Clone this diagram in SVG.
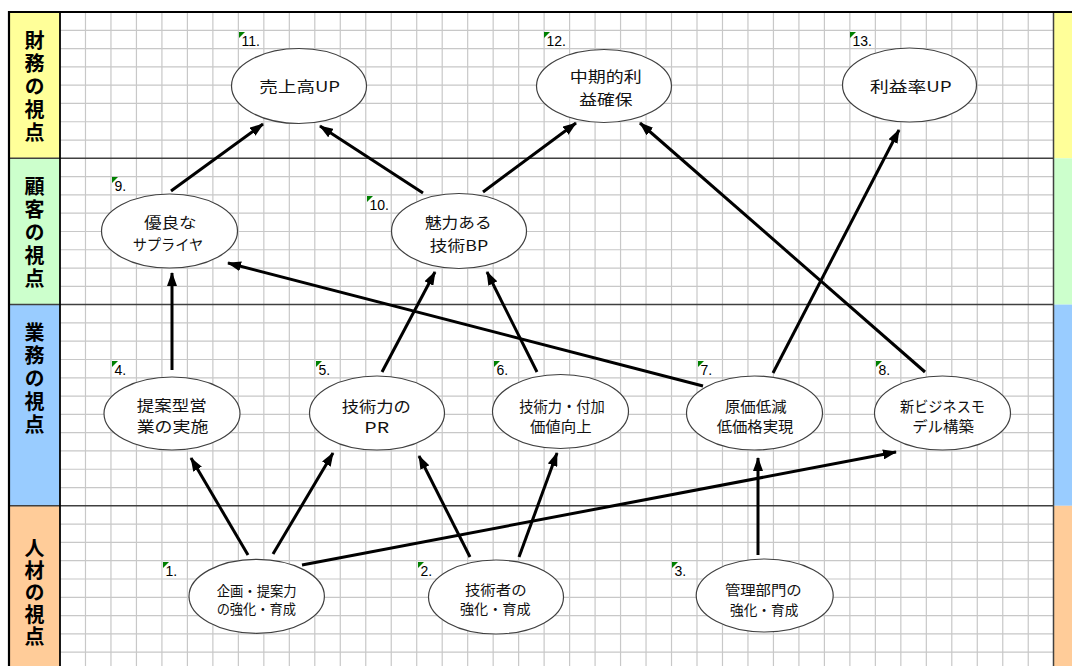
<svg xmlns="http://www.w3.org/2000/svg" width="1072" height="666" viewBox="0 0 1072 666">
<style>
.grid{stroke:#c8c8c8;stroke-width:1.2;fill:none}
.band{stroke:#404040;stroke-width:1.5}
.lbl{font-family:"Noto Sans CJK JP","Noto Sans CJK SC",sans-serif;font-size:20px;font-weight:bold;fill:#000;writing-mode:vertical-rl;text-orientation:upright;letter-spacing:3px}
.ell{fill:#fff;stroke:#404040;stroke-width:1.2}
.t{font-family:"Noto Sans CJK JP","Noto Sans CJK SC",sans-serif;font-size:15px;fill:#111;text-anchor:middle}
.ts{font-family:"Noto Sans CJK JP","Noto Sans CJK SC",sans-serif;font-size:14px;fill:#111;text-anchor:middle}
.num{font-family:"Liberation Sans",Arial,sans-serif;font-size:14px;fill:#000}
.tri{fill:#008000}
.arr{stroke:#000;stroke-width:3;fill:none;marker-end:url(#ah)}
</style>
<defs>
<marker id="ah" viewBox="0 0 14 10" refX="13" refY="5" markerWidth="14" markerHeight="10" markerUnits="userSpaceOnUse" orient="auto"><path d="M0,0 L14,5 L0,10 z" fill="#000"/></marker>
<path id="tr" d="M0,0 H6 L0,6 z"/>
</defs>
<rect x="0" y="0" width="1072" height="666" fill="#fff"/>
<!-- label column -->
<rect x="9" y="12" width="51" height="146.3" fill="#ffff99"/>
<rect x="9" y="158.3" width="51" height="146.3" fill="#ccffcc"/>
<rect x="9" y="304.6" width="51" height="201.2" fill="#99ccff"/>
<rect x="9" y="505.8" width="51" height="160.2" fill="#ffcc99"/>
<!-- right strip -->
<rect x="1053.5" y="12" width="18.5" height="146.3" fill="#ffff99"/>
<rect x="1053.5" y="158.3" width="18.5" height="146.3" fill="#ccffcc"/>
<rect x="1053.5" y="304.6" width="18.5" height="201.2" fill="#99ccff"/>
<rect x="1053.5" y="505.8" width="18.5" height="160.2" fill="#ffcc99"/>
<!-- grid -->
<path class="grid" d="M85.48 12V666M110.96 12V666M136.44 12V666M161.92 12V666M187.4 12V666M212.88 12V666M238.36 12V666M263.84 12V666M289.32 12V666M314.8 12V666M340.28 12V666M365.76 12V666M391.24 12V666M416.72 12V666M442.2 12V666M467.68 12V666M493.16 12V666M518.64 12V666M544.12 12V666M569.6 12V666M595.08 12V666M620.56 12V666M646.04 12V666M671.52 12V666M697 12V666M722.48 12V666M747.96 12V666M773.44 12V666M798.92 12V666M824.4 12V666M849.88 12V666M875.36 12V666M900.84 12V666M926.32 12V666M951.8 12V666M977.28 12V666M1002.76 12V666M1028.24 12V666
M60 30.29H1053M60 48.58H1053M60 66.87H1053M60 85.16H1053M60 103.45H1053M60 121.74H1053M60 140.03H1053M60 176.61H1053M60 194.9H1053M60 213.19H1053M60 231.48H1053M60 249.77H1053M60 268.06H1053M60 286.35H1053M60 322.93H1053M60 341.22H1053M60 359.51H1053M60 377.8H1053M60 396.09H1053M60 414.38H1053M60 432.67H1053M60 450.96H1053M60 469.25H1053M60 487.54H1053M60 524.12H1053M60 542.41H1053M60 560.7H1053M60 578.99H1053M60 597.28H1053M60 615.57H1053M60 633.86H1053M60 652.15H1053"/>
<!-- band lines and borders -->
<path class="band" d="M9 158.3H1053.5M9 304.6H1053.5M9 505.8H1053.5"/>
<line x1="1053.5" y1="12" x2="1053.5" y2="666" stroke="#404040" stroke-width="1.5"/>
<line x1="60" y1="12" x2="60" y2="666" stroke="#000" stroke-width="1.8"/>
<line x1="9" y1="11" x2="9" y2="666" stroke="#000" stroke-width="2.2"/>
<line x1="8" y1="12" x2="1072" y2="12" stroke="#000" stroke-width="2.2"/>
<!-- perspective labels -->
<g id="label-finance"><text class="lbl" x="34.5" y="30">財務の視点</text></g>
<g id="label-customer"><text class="lbl" x="34.5" y="176">顧客の視点</text></g>
<g id="label-business"><text class="lbl" x="34.5" y="322">業務の視点</text></g>
<g id="label-people"><text class="lbl" x="34.5" y="538" style="letter-spacing:2px">人材の視点</text></g>
<!-- connectors -->
<g id="connectors">
<line class="arr" x1="171" y1="191" x2="263" y2="124"/>
<line class="arr" x1="423" y1="193" x2="320" y2="126"/>
<line class="arr" x1="483" y1="192" x2="576" y2="123"/>
<line class="arr" x1="925" y1="372" x2="640" y2="123"/>
<line class="arr" x1="773" y1="373" x2="899" y2="130"/>
<line class="arr" x1="703" y1="386" x2="228" y2="263"/>
<line class="arr" x1="172" y1="370" x2="172" y2="273"/>
<line class="arr" x1="382" y1="372" x2="435" y2="272"/>
<line class="arr" x1="537" y1="372" x2="487" y2="272"/>
<line class="arr" x1="248" y1="555" x2="191" y2="458"/>
<line class="arr" x1="273" y1="554" x2="333" y2="453"/>
<line class="arr" x1="302" y1="565" x2="896" y2="452"/>
<line class="arr" x1="470" y1="557" x2="419" y2="456"/>
<line class="arr" x1="519" y1="557" x2="557" y2="453"/>
<line class="arr" x1="758" y1="555" x2="758" y2="458"/>
</g>
<!-- nodes -->
<g id="node11"><use href="#tr" class="tri" x="239" y="32"/><text class="num" x="241.5" y="46">11.</text><ellipse class="ell" cx="299" cy="86" rx="67.5" ry="37.5"/><text class="t" x="299.7" y="92.2" textLength="80.7" lengthAdjust="spacingAndGlyphs">売上高UP</text></g>
<g id="node12"><use href="#tr" class="tri" x="544" y="32"/><text class="num" x="546.5" y="46">12.</text><ellipse class="ell" cx="604" cy="86" rx="67.5" ry="36.5"/><text class="t" x="605.8" y="81.5" textLength="72" lengthAdjust="spacingAndGlyphs">中期的利</text><text class="t" x="606" y="104.7" textLength="53.3" lengthAdjust="spacingAndGlyphs">益確保</text></g>
<g id="node13"><use href="#tr" class="tri" x="850" y="32"/><text class="num" x="852.5" y="46">13.</text><ellipse class="ell" cx="909.5" cy="85" rx="67" ry="37"/><text class="t" x="910.8" y="92" textLength="81.7" lengthAdjust="spacingAndGlyphs">利益率UP</text></g>
<g id="node9"><use href="#tr" class="tri" x="112" y="177"/><text class="num" x="114.5" y="191">9.</text><ellipse class="ell" cx="169.5" cy="231" rx="68" ry="37"/><text class="t" x="170.3" y="228.2" textLength="52.7" lengthAdjust="spacingAndGlyphs">優良な</text><text class="t" x="168" y="250.2" textLength="70.7" lengthAdjust="spacingAndGlyphs">サプライヤ</text></g>
<g id="node10"><use href="#tr" class="tri" x="367" y="196"/><text class="num" x="369.5" y="210">10.</text><ellipse class="ell" cx="459" cy="231" rx="67.5" ry="37.5"/><text class="t" x="458.3" y="228.2" textLength="66.7" lengthAdjust="spacingAndGlyphs">魅力ある</text><text class="t" x="459" y="250.7" textLength="58.3" lengthAdjust="spacingAndGlyphs">技術BP</text></g>
<g id="node4"><use href="#tr" class="tri" x="112" y="361"/><text class="num" x="114.5" y="375">4.</text><ellipse class="ell" cx="172" cy="413.5" rx="68" ry="36.5"/><text class="t" x="171.7" y="410.7" textLength="70" lengthAdjust="spacingAndGlyphs">提案型営</text><text class="t" x="172.5" y="432.4" textLength="71.7" lengthAdjust="spacingAndGlyphs">業の実施</text></g>
<g id="node5"><use href="#tr" class="tri" x="316" y="361"/><text class="num" x="318.5" y="375">5.</text><ellipse class="ell" cx="377" cy="413" rx="67.5" ry="37"/><text class="t" x="376.3" y="411.7" textLength="69.3" lengthAdjust="spacingAndGlyphs">技術力の</text><text class="t" x="376.7" y="433.4" textLength="24.7" lengthAdjust="spacingAndGlyphs">PR</text></g>
<g id="node6"><use href="#tr" class="tri" x="494" y="361"/><text class="num" x="496.5" y="375">6.</text><ellipse class="ell" cx="560.5" cy="411.5" rx="68" ry="37"/><text class="t" x="562" y="411.7" textLength="85.7" lengthAdjust="spacingAndGlyphs">技術力・付加</text><text class="t" x="560.8" y="431.7" textLength="61.7" lengthAdjust="spacingAndGlyphs">価値向上</text></g>
<g id="node7"><use href="#tr" class="tri" x="698" y="361"/><text class="num" x="700.5" y="375">7.</text><ellipse class="ell" cx="754.5" cy="413" rx="68" ry="37"/><text class="t" x="755.8" y="411.7" textLength="61.7" lengthAdjust="spacingAndGlyphs">原価低減</text><text class="t" x="755" y="431.7" textLength="76.7" lengthAdjust="spacingAndGlyphs">低価格実現</text></g>
<g id="node8"><use href="#tr" class="tri" x="876" y="361"/><text class="num" x="878.5" y="375">8.</text><ellipse class="ell" cx="942.5" cy="413" rx="68" ry="37"/><text class="t" x="942.5" y="412.2" textLength="85" lengthAdjust="spacingAndGlyphs">新ビジネスモ</text><text class="t" x="943" y="432.2" textLength="61.7" lengthAdjust="spacingAndGlyphs">デル構築</text></g>
<g id="node1"><use href="#tr" class="tri" x="163" y="562"/><text class="num" x="165.5" y="576">1.</text><ellipse class="ell" cx="256.7" cy="596.3" rx="67.7" ry="37"/><text class="ts" x="256.7" y="595.6" textLength="80" lengthAdjust="spacingAndGlyphs">企画・提案力</text><text class="ts" x="256.3" y="614.1" textLength="79.3" lengthAdjust="spacingAndGlyphs">の強化・育成</text></g>
<g id="node2"><use href="#tr" class="tri" x="418" y="562"/><text class="num" x="420.5" y="576">2.</text><ellipse class="ell" cx="496" cy="597" rx="67.5" ry="37"/><text class="ts" x="495.8" y="595" textLength="61.7" lengthAdjust="spacingAndGlyphs">技術者の</text><text class="ts" x="495.3" y="614.1" textLength="70.7" lengthAdjust="spacingAndGlyphs">強化・育成</text></g>
<g id="node3"><use href="#tr" class="tri" x="672" y="562"/><text class="num" x="674.5" y="576">3.</text><ellipse class="ell" cx="764.7" cy="595.5" rx="68.5" ry="36.5"/><text class="ts" x="763.3" y="595.3" textLength="76.7" lengthAdjust="spacingAndGlyphs">管理部門の</text><text class="ts" x="764.2" y="615.3" textLength="68.3" lengthAdjust="spacingAndGlyphs">強化・育成</text></g>
</svg>
